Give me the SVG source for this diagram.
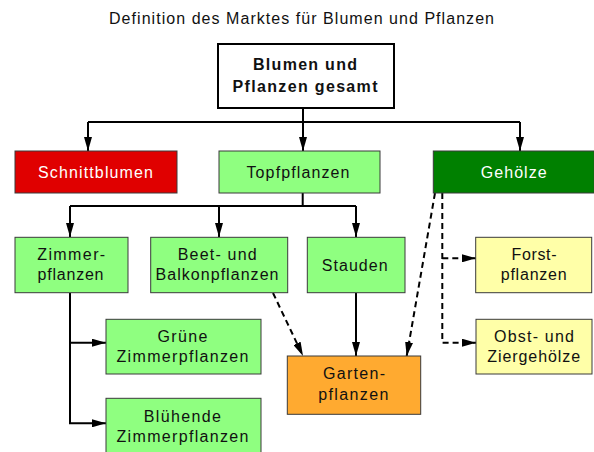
<svg xmlns="http://www.w3.org/2000/svg" width="594" height="452" viewBox="0 0 594 452">
  <style>
    text { font-family: "Liberation Sans", Arial, sans-serif; font-size: 16px; fill: #111; text-anchor: middle; }
    .title { font-size: 16px; }
    .bold { font-weight: bold; }
    .white { fill: #ffffff; }
    .box { stroke: #3a3a3a; stroke-width: 1; }
    .top { fill: #ffffff; stroke: #000; stroke-width: 2; }
    .red { fill: #e00000; }
    .lg { fill: #8fff80; }
    .dg { fill: #008000; }
    .yl { fill: #ffffa8; }
    .or { fill: #ffaa30; }
    .line { fill: none; stroke: #000; stroke-width: 2; }
    .dash { fill: none; stroke: #000; stroke-width: 2; stroke-dasharray: 6 4; }
  </style>
  <defs>
    <marker id="arrow" markerUnits="userSpaceOnUse" markerWidth="14" markerHeight="8" refX="14" refY="4" orient="auto">
      <path d="M0,0 L14,4 L0,8 z" fill="#000"/>
    </marker>
  </defs>

  <rect width="594" height="452" fill="#ffffff"/>

  <text class="title" x="301.5" y="24" textLength="385" lengthAdjust="spacing">Definition des Marktes für Blumen und Pflanzen</text>

  <!-- connectors -->
  <g id="connectors">
    <path class="line" d="M88,122 H520"/>
    <path class="line" d="M303,108 V151" marker-end="url(#arrow)"/>
    <path class="line" d="M88,122 V151" marker-end="url(#arrow)"/>
    <path class="line" d="M520,122 V151" marker-end="url(#arrow)"/>

    <path class="line" d="M302.7,193 V206"/>
    <path class="line" d="M70,206 H356"/>
    <path class="line" d="M70,206 V237" marker-end="url(#arrow)"/>
    <path class="line" d="M219,206 V237" marker-end="url(#arrow)"/>
    <path class="line" d="M356,206 V237" marker-end="url(#arrow)"/>

    <path class="line" d="M70,293 V423.3 H106" marker-end="url(#arrow)"/>
    <path class="line" d="M70,342.7 H106" marker-end="url(#arrow)"/>

    <path class="line" d="M356,293 V356" marker-end="url(#arrow)"/>

    <path class="dash" d="M273,293 L303,356" marker-end="url(#arrow)"/>
    <path class="dash" d="M435,193 L406.7,356" marker-end="url(#arrow)"/>
    <path class="dash" d="M442.3,193 V342.7 H476" marker-end="url(#arrow)"/>
    <path class="dash" d="M442.3,258.3 H476" marker-end="url(#arrow)"/>
  </g>

  <g id="gesamt">
    <rect class="top" x="218" y="44" width="176" height="64"/>
    <text class="bold" x="305" y="70" textLength="104" lengthAdjust="spacing">Blumen und</text>
    <text class="bold" x="305" y="91.5" textLength="145" lengthAdjust="spacing">Pflanzen gesamt</text>
  </g>

  <g id="schnittblumen">
    <rect class="box red" x="15" y="151" width="162" height="42"/>
    <text class="white" x="95.5" y="177.5" textLength="115" lengthAdjust="spacing">Schnittblumen</text>
  </g>

  <g id="topfpflanzen">
    <rect class="box lg" x="219" y="151" width="161" height="42"/>
    <text x="298" y="177.5" textLength="103" lengthAdjust="spacing">Topfpflanzen</text>
  </g>

  <g id="gehoelze">
    <rect class="box dg" x="433.3" y="151" width="161" height="42"/>
    <text class="white" x="513.7" y="177.5" textLength="66" lengthAdjust="spacing">Gehölze</text>
  </g>

  <g id="zimmerpflanzen">
    <rect class="box lg" x="15" y="237.3" width="113" height="55.4"/>
    <text x="71.2" y="260" textLength="68" lengthAdjust="spacing">Zimmer-</text>
    <text x="70.5" y="280" textLength="66" lengthAdjust="spacing">pflanzen</text>
  </g>

  <g id="beet-balkon">
    <rect class="box lg" x="150.7" y="237.3" width="137" height="55.4"/>
    <text x="217.2" y="260" textLength="79" lengthAdjust="spacing">Beet- und</text>
    <text x="217" y="280" textLength="123" lengthAdjust="spacing">Balkonpflanzen</text>
  </g>

  <g id="stauden">
    <rect class="box lg" x="307.3" y="237.3" width="97.7" height="55.4"/>
    <text x="354.7" y="270.7" textLength="66" lengthAdjust="spacing">Stauden</text>
  </g>

  <g id="forstpflanzen">
    <rect class="box yl" x="475.7" y="237.3" width="116" height="55.4"/>
    <text x="534" y="260" textLength="45" lengthAdjust="spacing">Forst-</text>
    <text x="533.7" y="280" textLength="66" lengthAdjust="spacing">pflanzen</text>
  </g>

  <g id="gruene">
    <rect class="box lg" x="106" y="319.3" width="155" height="54.7"/>
    <text x="182.5" y="341.7" textLength="50" lengthAdjust="spacing">Grüne</text>
    <text x="182.5" y="361.7" textLength="132" lengthAdjust="spacing">Zimmerpflanzen</text>
  </g>

  <g id="bluehende">
    <rect class="box lg" x="106" y="398.3" width="155" height="60"/>
    <text x="182.3" y="421.7" textLength="77" lengthAdjust="spacing">Blühende</text>
    <text x="182.5" y="442.3" textLength="132" lengthAdjust="spacing">Zimmerpflanzen</text>
  </g>

  <g id="gartenpflanzen">
    <rect class="box or" x="287.3" y="356" width="133.4" height="58.3"/>
    <text x="354" y="379.3" textLength="62" lengthAdjust="spacing">Garten-</text>
    <text x="353.3" y="400" textLength="70" lengthAdjust="spacing">pflanzen</text>
  </g>

  <g id="obst-zier">
    <rect class="box yl" x="476" y="319.3" width="116" height="54.7"/>
    <text x="534" y="341.7" textLength="80" lengthAdjust="spacing">Obst- und</text>
    <text x="533.7" y="362" textLength="93" lengthAdjust="spacing">Ziergehölze</text>
  </g>
</svg>
